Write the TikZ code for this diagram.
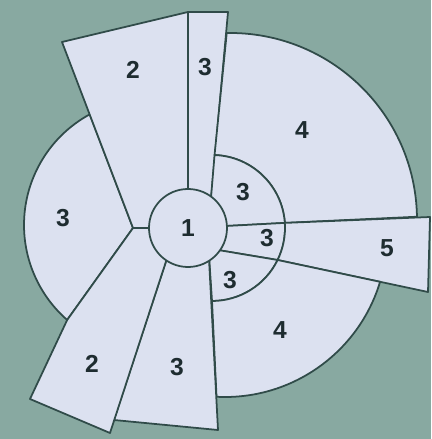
\documentclass[tikz,border=0pt]{standalone}
\usepackage{fontspec}
\setmainfont{Liberation Sans}
\definecolor{bgteal}{HTML}{88A9A1}
\definecolor{pane}{HTML}{DCE1F0}
\definecolor{edge}{HTML}{304B49}
\definecolor{digit}{HTML}{1E2C30}

\begin{document}
\begin{tikzpicture}[x=0.3mm, y=0.3mm, region/.style={draw=edge, fill=pane, line width=1.5pt, line join=round}, num/.style={text=digit, font=\fontsize{21}{24}\selectfont\bfseries}]
    \fill[bgteal] (0,0) rectangle (431,439);
    \useasboundingbox (0,0) rectangle (431,439);
    \coordinate (c) at (188,211);
    \coordinate (ring) at (212,211);
    \coordinate (lc) at (150,214);
    \coordinate (ac) at (230,219);
    \coordinate (bc) at (225,204);
    \coordinate (t1) at (62,397);
    \coordinate (t2) at (188,427);
    \coordinate (n2) at (228,427);
    \coordinate (n3) at (210,229);
    \coordinate (j) at (133,211);
    \coordinate (w1) at (430,222);
    \coordinate (w2) at (428,147);
    \coordinate (m) at (200,192);
    \coordinate (q) at (208,199);
    \coordinate (b3a) at (218,9);
    \coordinate (b3b) at (114,19);
    \coordinate (p) at (173,199);
    \coordinate (s1) at (30,40);
    \coordinate (s2) at (110,6);
    \coordinate (wt) at ([shift={(4:73)}]ring);
    \coordinate (wb) at ([shift={(-26:73)}]ring);
    \coordinate (lt) at ([shift={(118.6:126)}]lc);
    \coordinate (lb) at ([shift={(228.9:126)}]lc);
    \draw[region] (lt) arc[start angle=118.6, end angle=228.9, radius=126] -- (j) -- cycle;
    \draw[region] (t1) -- (t2) -- (c) -- (j) -- cycle;
    \draw[region] (t2) -- (n2) -- (n3) -- (c) -- cycle;
    \draw[region] ([shift={(91:187)}]ac) arc[start angle=91, end angle=1, radius=187] -- (wt) arc[start angle=4, end angle=88, radius=73] -- cycle;
    \draw[region] (wt) arc[start angle=4, end angle=88, radius=73] -- (n3) -- (c) -- cycle;
    \draw[region] (wt) arc[start angle=4, end angle=-26, radius=73] -- (m) -- (c) -- cycle;
    \draw[region] (wt) -- (w1) -- (w2) -- (wb) arc[start angle=-26, end angle=4, radius=73] -- cycle;
    \draw[region] (wb) arc[start angle=-26, end angle=-90, radius=73] -- (q) -- (m) -- cycle;
    \draw[region] ([shift={(-16.8:162)}]bc) arc[start angle=-16.8, end angle=-93, radius=162] -- ([shift={(-90:73)}]ring) arc[start angle=-90, end angle=-26, radius=73] -- cycle;
    \draw[region] (q) -- (b3a) -- (b3b) -- (p) -- cycle;
    \draw[region] (s1) -- (s2) -- (p) -- (c) -- (j) -- (lb) -- cycle;
    \draw[region] (c) circle[radius=39];
    \node[num] (one) at (c) {1};
    \node[num] (twotop) at (133,369) {2};
    \node[num] (threetop) at (205,372) {3};
    \node[num] (fourtop) at (302,309) {4};
    \node[num] (threeleft) at (63,221) {3};
    \node[num] (threeup) at (243,247) {3};
    \node[num] (threemid) at (267,201) {3};
    \node[num] (threelow) at (230,159) {3};
    \node[num] (five) at (387,191) {5};
    \node[num] (fourlow) at (280,109) {4};
    \node[num] (twolow) at (92,75) {2};
    \node[num] (threelow2) at (177,72) {3};
\end{tikzpicture}
\end{document}
